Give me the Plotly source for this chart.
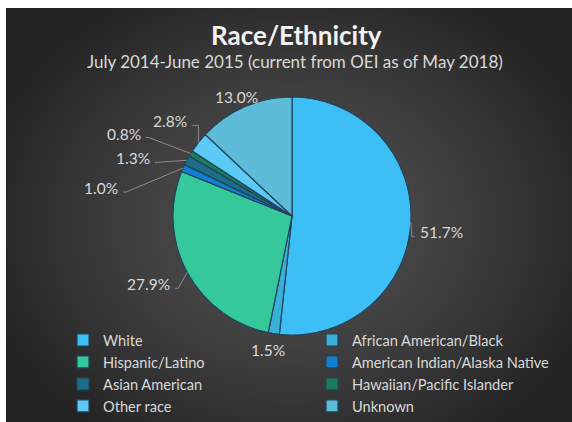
import base64
import math
import struct
import zlib

import numpy as np
import plotly.graph_objects as go

# ---- data -------------------------------------------------------------
categories = [
    "White",
    "African American/Black",
    "Hispanic/Latino",
    "American Indian/Alaska Native",
    "Asian American",
    "Hawaiian/Pacific Islander",
    "Other race",
    "Unknown",
]
shares = [51.7, 1.5, 27.9, 1.0, 1.3, 0.8, 2.8, 13.0]

# ---- styling ----------------------------------------------------------
slice_colors = ["#3dbff5", "#3ab0d9", "#35c89b", "#1180d0",
                "#1d6e88", "#1e7a5e", "#5ccaf7", "#5fbcd9"]
W, H = 572, 422
FONT = "Lato"
TEXT = "#d9d9d9"

# pie geometry in pixels (centre and radius)
CX, CY, R = 292, 216, 119

# label placement per slice: offset of text anchor from slice edge (px),
# anchor side, and leader elbow length (0 = no leader)
label_style = {
    "White": (7, 10, "left", 3),
    "African American/Black": (-6, 16, "center", 0),
    "Hispanic/Latino": (-15, 12, "right", 3),
    "American Indian/Alaska Native": (-63, 20, "right", 3),
    "Asian American": (-35, -2, "right", 3),
    "Hawaiian/Pacific Islander": (-48, -20, "right", 3),
    "Other race": (-9, -21, "right", 6),
    "Unknown": (-8, -10, "center", 0),
}


def px(x, y):
    return x / W, 1 - y / H


# ---- radial gradient backdrop (PNG data URI) --------------------------
def gradient_png(w, h):
    yy, xx = np.mgrid[0:h, 0:w].astype(float)
    d = np.sqrt(((xx - 286) / 330.0) ** 2 + ((yy - 215) / 270.0) ** 2)
    v = 82 - 48 * np.clip(d, 0, 1.3) ** 1.3
    v = np.clip(v, 34, 90).astype(np.uint8)
    img = np.stack([v, v, v], axis=-1)
    raw = b"".join(b"\x00" + img[r].tobytes() for r in range(h))

    def chunk(tag, data):
        c = struct.pack(">I", len(data)) + tag + data
        return c + struct.pack(">I", zlib.crc32(tag + data) & 0xFFFFFFFF)

    png = b"\x89PNG\r\n\x1a\n"
    png += chunk(b"IHDR", struct.pack(">IIBBBBB", w, h, 8, 2, 0, 0, 0))
    png += chunk(b"IDAT", zlib.compress(raw, 9))
    png += chunk(b"IEND", b"")
    return "data:image/png;base64," + base64.b64encode(png).decode()


BG_X0, BG_Y0 = 6, 8
bg = gradient_png(W - BG_X0, H - BG_Y0)

# ---- figure -----------------------------------------------------------
x0, y1 = px(CX - R, CY - R)
x1, y0 = px(CX + R, CY + R)

fig = go.Figure(
    go.Pie(
        labels=categories,
        values=shares,
        sort=False,
        direction="clockwise",
        rotation=0,
        textinfo="none",
        hoverinfo="label+percent",
        marker=dict(colors=slice_colors, line=dict(color="#22435c", width=1.2)),
        domain=dict(x=[x0, x1], y=[y0, y1]),
    )
)

annotations = []
shapes = []
total = sum(shares)
cum = 0.0
for name, val in zip(categories, shares):
    mid = (cum + val / 2) / total * 2 * math.pi
    cum += val
    ex = CX + R * math.sin(mid)
    ey = CY - R * math.cos(mid)
    dx, dy, side, elbow = label_style[name]
    ax, ay = ex + dx, ey + dy
    axp, ayp = px(ax, ay)
    annotations.append(dict(
        x=axp, y=ayp, xref="paper", yref="paper",
        text=f"{val:.1f}%", showarrow=False,
        xanchor=side, yanchor="middle",
        font=dict(family=FONT, size=15.5, color=TEXT),
    ))
    if elbow:
        sgn = 1 if side == "right" else -1
        sx, sy = ax + sgn * 3, ay + 4
        bx = sx + sgn * elbow
        pts = [px(sx, sy), px(bx, sy), px(ex, ey)]
        path = "M " + " L ".join(f"{p[0]},{p[1]}" for p in pts)
        shapes.append(dict(type="path", path=path, xref="paper", yref="paper",
                           line=dict(color="#a0a0a0", width=0.8)))

tx, ty = px(296, 35)
sx_, sy_ = px(295, 61)
annotations += [
    dict(x=tx, y=ty, xref="paper", yref="paper", showarrow=False,
         text="<b>Race/Ethnicity</b>", xanchor="center", yanchor="middle",
         font=dict(family=FONT, size=26, color="#f2f2f2")),
    dict(x=sx_, y=sy_, xref="paper", yref="paper", showarrow=False,
         text="July 2014-June 2015 (current from OEI as of May 2018)",
         xanchor="center", yanchor="middle",
         font=dict(family=FONT, size=17, color=TEXT)),
]

lx, ly = px(63, 324)
fig.update_layout(
    width=W, height=H,
    margin=dict(l=0, r=0, t=0, b=0, autoexpand=False),
    paper_bgcolor="white",
    plot_bgcolor="rgba(0,0,0,0)",
    images=[dict(source=bg, xref="paper", yref="paper",
                 x=BG_X0 / W, y=1 - BG_Y0 / H,
                 sizex=(W - BG_X0) / W, sizey=(H - BG_Y0) / H,
                 xanchor="left", yanchor="top", sizing="stretch",
                 layer="below")],
    annotations=annotations,
    shapes=shapes,
    showlegend=True,
    legend=dict(
        orientation="h", x=lx, y=ly, xanchor="left", yanchor="top",
        entrywidth=204, entrywidthmode="pixels",
        font=dict(family=FONT, size=14.6, color=TEXT),
        bgcolor="rgba(0,0,0,0)", itemclick=False, itemdoubleclick=False,
    ),
)

fig.write_html("out.html")
